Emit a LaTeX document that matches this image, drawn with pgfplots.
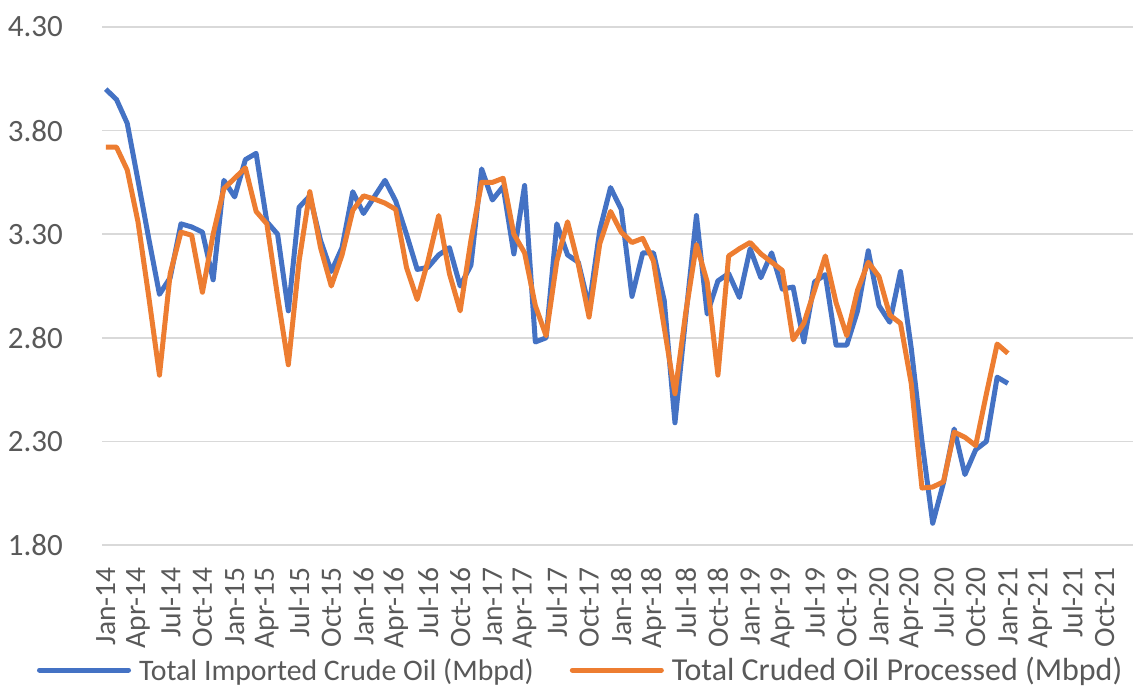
\documentclass[border=0pt]{standalone}
\usepackage{fontspec}
\setmainfont{Carlito}
\usepackage{pgfplots}
\usepackage{pgfplotstable}
\pgfplotsset{compat=1.18}

\definecolor{impblue}{HTML}{4472C4}
\definecolor{procorange}{HTML}{ED7D31}
\definecolor{textgray}{HTML}{595959}
\definecolor{gridgray}{HTML}{D9D9D9}

% month index (0 = Jan-14), imported, processed
\pgfplotstableread{
idx imp proc
0 4.00 3.72
1 3.95 3.72
2 3.835 3.61
3 3.56 3.36
4 3.28 3.00
5 3.01 2.62
6 3.09 3.11
7 3.35 3.31
8 3.335 3.295
9 3.31 3.02
10 3.08 3.30
11 3.56 3.52
12 3.48 3.57
13 3.66 3.62
14 3.69 3.41
15 3.36 3.35
16 3.30 3.00
17 2.93 2.67
18 3.43 3.17
19 3.485 3.505
20 3.27 3.235
21 3.12 3.05
22 3.235 3.20
23 3.505 3.415
24 3.40 3.485
25 3.48 3.47
26 3.56 3.45
27 3.46 3.42
28 3.30 3.14
29 3.13 2.985
30 3.14 3.17
31 3.20 3.39
32 3.235 3.11
33 3.05 2.93
34 3.15 3.27
35 3.615 3.55
36 3.465 3.55
37 3.53 3.57
38 3.205 3.30
39 3.535 3.21
40 2.78 2.955
41 2.80 2.81
42 3.35 3.17
43 3.20 3.36
44 3.165 3.155
45 2.95 2.90
46 3.32 3.255
47 3.525 3.41
48 3.42 3.31
49 3.00 3.26
50 3.21 3.28
51 3.21 3.17
52 2.98 2.85
53 2.39 2.53
54 2.90 2.92
55 3.39 3.25
56 2.915 3.07
57 3.075 2.62
58 3.11 3.195
59 2.995 3.23
60 3.23 3.26
61 3.09 3.205
62 3.21 3.165
63 3.035 3.125
64 3.045 2.79
65 2.78 2.87
66 3.07 3.03
67 3.105 3.195
68 2.765 2.97
69 2.765 2.81
70 2.93 3.03
71 3.22 3.165
72 2.955 3.095
73 2.875 2.91
74 3.12 2.87
75 2.75 2.58
76 2.30 2.075
77 1.905 2.08
78 2.10 2.105
79 2.36 2.345
80 2.14 2.32
81 2.26 2.28
82 2.30 2.53
83 2.61 2.77
84 2.58 2.725
}\oildata

\begin{document}
\begin{tikzpicture}
\begin{axis}[
    scale only axis,
    width=1031pt,
    height=518pt,
    xmin=-0.35, xmax=95.65,
    ymin=1.8, ymax=4.3,
    xtick={0,3,...,93},
    xticklabels={Jan-14,Apr-14,Jul-14,Oct-14,Jan-15,Apr-15,Jul-15,Oct-15,
        Jan-16,Apr-16,Jul-16,Oct-16,Jan-17,Apr-17,Jul-17,Oct-17,
        Jan-18,Apr-18,Jul-18,Oct-18,Jan-19,Apr-19,Jul-19,Oct-19,
        Jan-20,Apr-20,Jul-20,Oct-20,Jan-21,Apr-21,Jul-21,Oct-21},
    ytick={1.8,2.3,2.8,3.3,3.8,4.3},
    yticklabels={1.80,2.30,2.80,3.30,3.80,4.30},
    x tick label style={rotate=90, anchor=east, inner sep=0pt,
        font=\fontsize{29.5}{30}\selectfont, text=textgray},
    xticklabel shift=22pt,
    y tick label style={anchor=east, inner sep=0pt, xshift=-39pt,
        font=\fontsize{31}{32}\selectfont, text=textgray},
    major tick length=0pt,
    tick style={draw=none},
    axis line style={draw=none},
    ymajorgrids,
    grid style={draw=gridgray, line width=1.7pt},
    legend columns=2,
    legend cell align=left,
    legend image code/.code={
        \draw[#1, line width=5pt, line cap=round] (2.5pt,0pt) -- (91.5pt,0pt);
    },
    legend style={draw=none, fill=none, at={(0,0)}, anchor=west,
        xshift=-65pt, yshift=-125pt, inner sep=0pt, outer sep=0pt,
        nodes={inner sep=0pt, text=textgray},
        /tikz/every odd column/.append style={column sep=8pt},
        /tikz/every even column/.append style={column sep=36pt}},
]
\addplot[impblue, line width=5pt, line join=round] table[x=idx, y=imp] {\oildata};
\addlegendentry{\fontsize{29.8}{34}\selectfont Total Imported Crude Oil (Mbpd)}
\addplot[procorange, line width=5pt, line join=round] table[x=idx, y=proc] {\oildata};
\addlegendentry{\fontsize{32}{36}\selectfont Total Cruded Oil Processed (Mbpd)}
\end{axis}
\pgfresetboundingbox
\path[use as bounding box] ([shift={(-102pt,-146pt)}]current axis.south west)
    rectangle ([shift={(9pt,27pt)}]current axis.north east);
\end{tikzpicture}
\end{document}
